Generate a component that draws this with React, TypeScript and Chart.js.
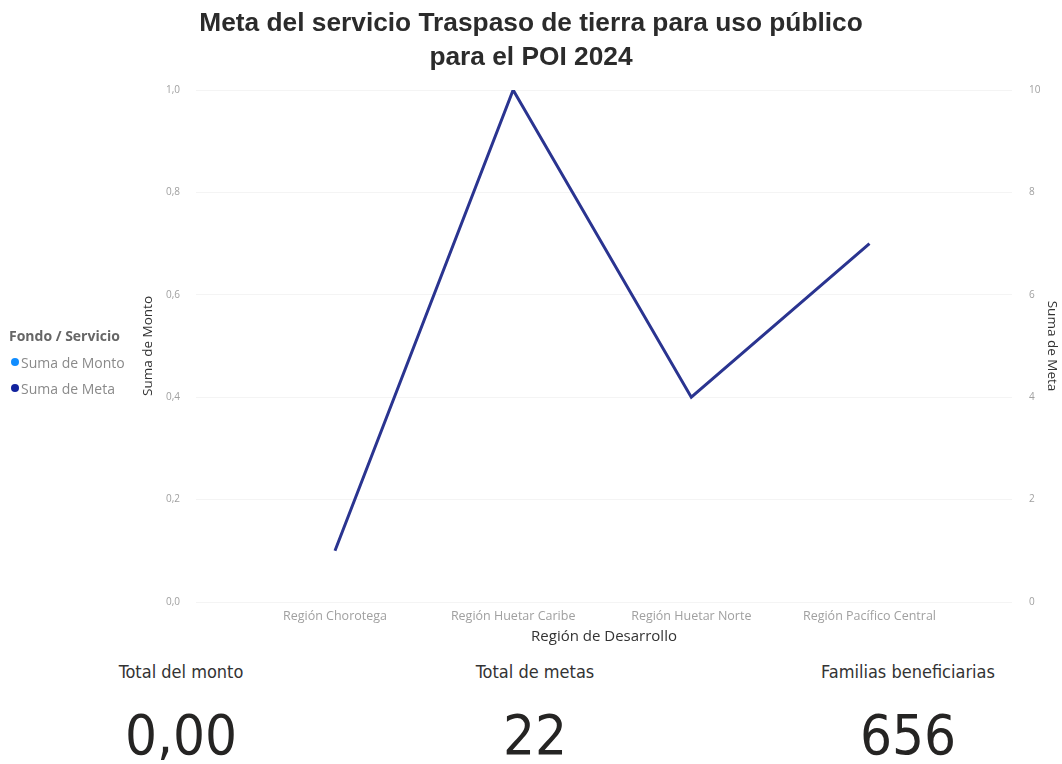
import React, { useEffect, useRef } from "react";
import { Chart, registerables } from "chart.js";

Chart.register(...registerables);

const TITLE_LINES = ["Meta del servicio Traspaso de tierra para uso público", "para el POI 2024"];
const CATEGORIES = ["Región Chorotega", "Región Huetar Caribe", "Región Huetar Norte", "Región Pacífico Central"];
const MONTO: (number | null)[] = [null, null, null, null];
const META = [1, 10, 4, 7];
const LEGEND_TITLE = "Fondo / Servicio";
const SERIES_NAMES = ["Suma de Monto", "Suma de Meta"];
const SERIES_COLORS = ["#118DFF", "#12239E"];
const KPI_LABELS = ["Total del monto", "Total de metas", "Familias beneficiarias"];
const KPI_VALUES = ["0,00", "22", "656"];

export default function App() {
  const ref = useRef<HTMLCanvasElement | null>(null);

  useEffect(() => {
    if (!ref.current) return;
    const chart = new Chart(ref.current, {
      type: "line",
      data: {
        datasets: [
          {
            label: SERIES_NAMES[0],
            data: MONTO.map((v, i) => ({ x: i, y: v })) as any,
            borderColor: SERIES_COLORS[0],
            backgroundColor: SERIES_COLORS[0],
            borderWidth: 3,
            pointRadius: 0,
            yAxisID: "y",
          },
          {
            label: SERIES_NAMES[1],
            data: META.map((v, i) => ({ x: i, y: v })),
            borderColor: "#2A3490",
            backgroundColor: SERIES_COLORS[1],
            borderWidth: 3,
            pointRadius: 0,
            tension: 0,
            yAxisID: "y1",
          },
        ],
      },
      options: {
        animation: false,
        responsive: false,
        devicePixelRatio: 1,
        layout: { padding: { left: 136, right: 0, top: 90, bottom: 3 } },
        plugins: {
          legend: { display: false },
          title: { display: false },
          tooltip: { enabled: false },
        },
        scales: {
          x: {
            type: "linear",
            min: -0.78,
            max: 3.8,
            grid: { display: false, drawTicks: false, tickLength: 0 },
            border: { display: false },
            afterBuildTicks: (scale: any) => {
              scale.ticks = CATEGORIES.map((_, i) => ({ value: i }));
            },
            afterFit: (scale: any) => {
              scale.height = 45;
            },
            ticks: {
              autoSkip: false,
              maxRotation: 0,
              padding: 7,
              color: "#a0a0a0",
              font: { family: "Open Sans", size: 12.5 },
              callback: (v: any) => CATEGORIES[v] ?? "",
            },
            title: {
              display: true,
              text: "Región de Desarrollo",
              color: "#333333",
              font: { family: "Open Sans", size: 15 },
              padding: { top: 4, bottom: 1 },
            },
          },
          y: {
            type: "linear",
            position: "left",
            min: 0,
            max: 1,
            grid: { color: "#f4f4f4", drawTicks: false, lineWidth: 1 },
            border: { display: false },
            afterFit: (scale: any) => {
              scale.width = 60;
            },
            ticks: {
              stepSize: 0.2,
              padding: 16,
              color: "#a0a0a0",
              font: { family: "Open Sans", size: 10 },
              callback: (v: any) => Number(v).toFixed(1).replace(".", ","),
            },
            title: {
              display: true,
              text: "Suma de Monto",
              color: "#333333",
              font: { family: "Open Sans", size: 13.5 },
              padding: { top: 4, bottom: 4 },
            },
          },
          y1: {
            type: "linear",
            position: "right",
            min: 0,
            max: 10,
            grid: { display: false },
            border: { display: false },
            afterFit: (scale: any) => {
              scale.width = 50;
            },
            ticks: {
              stepSize: 2,
              padding: 9,
              color: "#a0a0a0",
              font: { family: "Open Sans", size: 10 },
            },
            title: {
              display: true,
              text: "Suma de Meta",
              color: "#333333",
              font: { family: "Open Sans", size: 13.5 },
              padding: { top: 2, bottom: 4 },
            },
          },
        },
      },
    });
    return () => chart.destroy();
  }, []);

  const kpiCenters = [181, 535, 908];

  return (
    <div style={{ position: "absolute", left: 0, top: 0, width: 1062, height: 764, background: "#fff", overflow: "hidden" }}>
      <canvas ref={ref} width={1062} height={650} style={{ position: "absolute", left: 0, top: 0, width: 1062, height: 650 }} />
      <div
        style={{
          position: "absolute",
          left: 0,
          top: 5,
          width: 1062,
          textAlign: "center",
          fontFamily: "'Liberation Sans', Arial, sans-serif",
          fontWeight: "bold",
          fontSize: 26.3,
          lineHeight: "34px",
          color: "#2b2b2b",
        }}
      >
        {TITLE_LINES.map((t) => (
          <div key={t}>{t}</div>
        ))}
      </div>
      <div style={{ position: "absolute", left: 9, top: 326, fontFamily: "'Open Sans', sans-serif", fontSize: 14 }}>
        <div style={{ fontWeight: "bold", color: "#666", marginBottom: 3, lineHeight: "20px" }}>{LEGEND_TITLE}</div>
        {SERIES_NAMES.map((n, i) => (
          <div key={n} style={{ display: "flex", alignItems: "center", height: 26, color: "#8a8a8a" }}>
            <span style={{ display: "inline-block", width: 8, height: 8, borderRadius: 4, background: SERIES_COLORS[i], marginRight: 2, marginLeft: 2 }} />
            {n}
          </div>
        ))}
      </div>
      {KPI_LABELS.map((l, i) => (
        <React.Fragment key={l}>
          <div
            style={{
              position: "absolute",
              left: kpiCenters[i] - 150,
              width: 300,
              top: 660,
              lineHeight: "24px",
              textAlign: "center",
              fontFamily: "'DejaVu Sans Condensed', 'DejaVu Sans', sans-serif",
              fontSize: 18,
              color: "#333",
            }}
          >
            {l}
          </div>
          <div
            style={{
              position: "absolute",
              left: kpiCenters[i] - 150,
              width: 300,
              top: 700,
              textAlign: "center",
              fontFamily: "'DejaVu Sans Condensed', 'DejaVu Sans', sans-serif",
              fontSize: 56,
              lineHeight: "70px",
              color: "#252423",
            }}
          >
            {KPI_VALUES[i]}
          </div>
        </React.Fragment>
      ))}
    </div>
  );
}
